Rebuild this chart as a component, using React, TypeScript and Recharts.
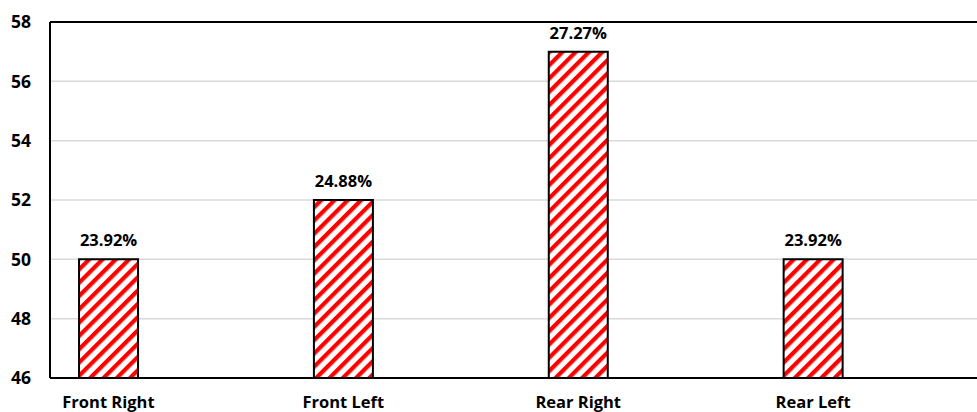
import { Bar, BarChart, CartesianGrid, LabelList, ReferenceLine, XAxis, YAxis } from "recharts";

const categories = ["Front Right", "Front Left", "Rear Right", "Rear Left"];
const values = [50, 52, 57, 50];
const shares = ["23.92%", "24.88%", "27.27%", "23.92%"];
const yTicks = [46, 48, 50, 52, 54, 56, 58];

const data = categories.map((name, i) => ({ x: i, name, value: values[i], share: shares[i] }));

const font = "'Open Sans', 'Noto Sans', sans-serif";

const App = () => {
  return (
    <div style={{ position: "absolute", left: 0, top: 0, background: "#fff" }}>
      <BarChart width={977} height={412} data={data} margin={{ top: 22, right: 0, left: 0, bottom: 0 }}>
        <defs>
          <pattern id="stripes" patternUnits="userSpaceOnUse" width="9.4" height="9.4" patternTransform="rotate(45)">
            <rect width="9.4" height="9.4" fill="#ffffff" />
            <rect width="4.2" height="9.4" fill="#ff0000" />
          </pattern>
        </defs>
        <CartesianGrid vertical={false} stroke="#d9d9d9" strokeWidth={1.5} />
        <XAxis
          type="number"
          dataKey="x"
          domain={[-0.249, 3.698]}
          ticks={[0, 1, 2, 3]}
          tickFormatter={(i: number) => categories[i]}
          allowDataOverflow
          height={34}
          tickSize={0}
          tickMargin={18}
          axisLine={{ stroke: "#000", strokeWidth: 2 }}
          tick={{ fontSize: 16.5, fontWeight: 700, fill: "#000", fontFamily: font }}
        />
        <YAxis
          domain={[46, 58]}
          ticks={yTicks}
          allowDataOverflow
          width={50}
          tickSize={0}
          tickMargin={19}
          axisLine={{ stroke: "#000", strokeWidth: 2 }}
          tick={{ fontSize: 17.5, fontWeight: 700, fill: "#000", fontFamily: font }}
        />
        <ReferenceLine y={58} stroke="#000" strokeWidth={2} />
        <Bar dataKey="value" barSize={59} fill="url(#stripes)" stroke="#000" strokeWidth={2} isAnimationActive={false}>
          <LabelList
            dataKey="share"
            position="top"
            offset={13}
            style={{ fontSize: 16.5, fontWeight: 700, fill: "#000", fontFamily: font }}
          />
        </Bar>
      </BarChart>
    </div>
  );
};

export default App;
